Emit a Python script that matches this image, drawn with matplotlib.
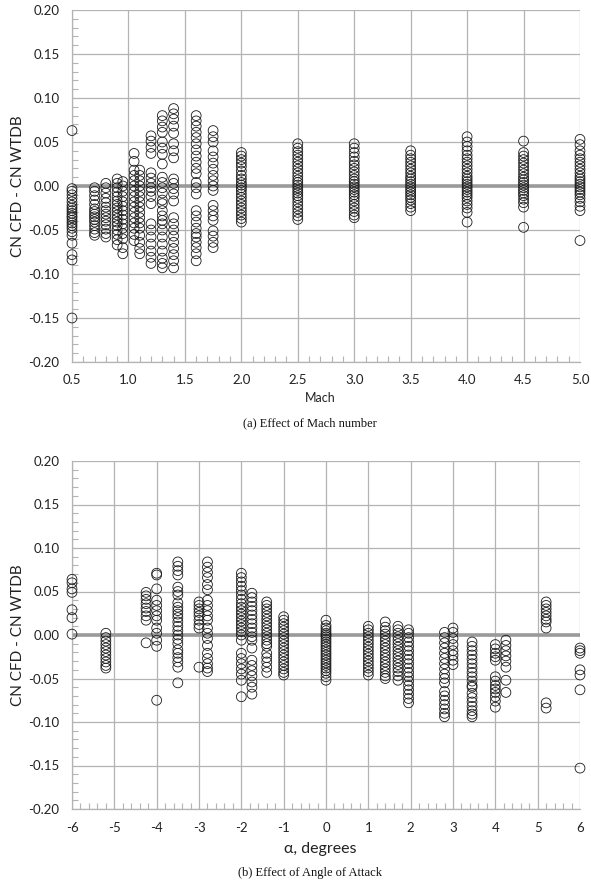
import matplotlib
matplotlib.use("Agg")
import matplotlib.pyplot as plt
from matplotlib.ticker import MultipleLocator

# (a) CN difference vs Mach number, one list per Mach column
mach_positions = [0.5, 0.7, 0.8, 0.9, 0.95, 1.05, 1.1, 1.2, 1.3, 1.4, 1.6, 1.75,
                  2.0, 2.5, 3.0, 3.5, 4.0, 4.5, 5.0]
mach_deltas = [
    [0.063, -0.003, -0.006, -0.010, -0.014, -0.018, -0.022, -0.025, -0.028, -0.031, -0.034,
     -0.036, -0.039, -0.042, -0.045, -0.048, -0.052, -0.056, -0.065, -0.078, -0.084, -0.150],
    [-0.002, -0.006, -0.011, -0.016, -0.021, -0.026, -0.029, -0.032, -0.035, -0.038, -0.041,
     -0.045, -0.049, -0.053, -0.056],
    [0.003, -0.002, -0.008, -0.014, -0.019, -0.024, -0.028, -0.032, -0.036, -0.040, -0.044,
     -0.049, -0.054, -0.058],
    [0.008, 0.003, -0.002, -0.007, -0.012, -0.017, -0.021, -0.025, -0.029, -0.033, -0.037,
     -0.041, -0.045, -0.050, -0.055, -0.061, -0.067],
    [0.005, 0.000, -0.006, -0.012, -0.018, -0.023, -0.028, -0.033, -0.038, -0.043, -0.048,
     -0.054, -0.060, -0.070, -0.077],
    [0.037, 0.028, 0.018, 0.012, 0.006, 0.000, -0.006, -0.012, -0.018, -0.024, -0.030,
     -0.036, -0.042, -0.048, -0.055, -0.062],
    [0.018, 0.012, 0.006, 0.000, -0.006, -0.012, -0.018, -0.024, -0.030, -0.036, -0.042,
     -0.048, -0.056, -0.064, -0.071, -0.077],
    [0.057, 0.051, 0.044, 0.037, 0.015, 0.009, 0.003, -0.002, -0.006, -0.012, -0.020,
     -0.043, -0.050, -0.058, -0.066, -0.074, -0.081, -0.088],
    [0.080, 0.074, 0.067, 0.061, 0.050, 0.043, 0.036, 0.025, 0.010, 0.004, -0.002, -0.008,
     -0.016, -0.020, -0.028, -0.034, -0.039, -0.043, -0.050, -0.058, -0.066, -0.074,
     -0.082, -0.088, -0.093],
    [0.088, 0.082, 0.076, 0.068, 0.060, 0.048, 0.040, 0.032, 0.008, 0.003, -0.003, -0.009,
     -0.017, -0.036, -0.043, -0.050, -0.057, -0.064, -0.071, -0.078, -0.085, -0.093],
    [0.080, 0.074, 0.068, 0.061, 0.055, 0.048, 0.041, 0.034, 0.027, 0.020, 0.014, 0.004,
     -0.002, -0.009, -0.028, -0.034, -0.041, -0.048, -0.054, -0.058, -0.064, -0.070,
     -0.077, -0.085],
    [0.063, 0.056, 0.050, 0.040, 0.033, 0.026, 0.019, 0.012, 0.006, 0.000, -0.005, -0.022,
     -0.028, -0.034, -0.039, -0.051, -0.057, -0.064, -0.070],
    [0.038, 0.034, 0.030, 0.026, 0.022, 0.017, 0.012, 0.008, 0.004, 0.001, -0.002, -0.005,
     -0.009, -0.013, -0.017, -0.021, -0.025, -0.029, -0.033, -0.037, -0.041],
    [0.048, 0.043, 0.039, 0.035, 0.031, 0.027, 0.023, 0.019, 0.015, 0.011, 0.007, 0.004,
     0.001, -0.002, -0.005, -0.008, -0.011, -0.014, -0.018, -0.022, -0.026, -0.030,
     -0.034, -0.038],
    [0.048, 0.043, 0.038, 0.033, 0.028, 0.024, 0.020, 0.016, 0.012, 0.008, 0.005, 0.002,
     -0.001, -0.004, -0.007, -0.010, -0.013, -0.017, -0.021, -0.025, -0.029, -0.033, -0.036],
    [0.040, 0.035, 0.031, 0.027, 0.023, 0.019, 0.015, 0.011, 0.008, 0.005, 0.002, -0.001,
     -0.004, -0.007, -0.010, -0.013, -0.016, -0.020, -0.024, -0.028],
    [0.056, 0.050, 0.045, 0.040, 0.035, 0.031, 0.027, 0.023, 0.019, 0.015, 0.011, 0.008,
     0.005, 0.002, -0.001, -0.004, -0.007, -0.010, -0.013, -0.017, -0.021, -0.025,
     -0.030, -0.041],
    [0.051, 0.038, 0.034, 0.030, 0.026, 0.022, 0.018, 0.014, 0.010, 0.007, 0.004, 0.001,
     -0.002, -0.005, -0.008, -0.011, -0.015, -0.019, -0.024, -0.047],
    [0.053, 0.047, 0.040, 0.035, 0.031, 0.027, 0.023, 0.019, 0.015, 0.011, 0.008, 0.005,
     0.002, -0.001, -0.004, -0.007, -0.010, -0.014, -0.018, -0.023, -0.028, -0.062],
]

# (b) CN difference vs angle of attack, one list per alpha column
alpha_positions = [-6.0, -5.2, -4.25, -4.0, -3.5, -3.0, -2.8, -2.0, -1.75, -1.4, -1.0,
                   0.0, 1.0, 1.4, 1.7, 1.95, 2.8, 3.0, 3.45, 4.0, 4.25, 5.2, 6.0]
alpha_deltas = [
    [0.064, 0.060, 0.053, 0.049, 0.029, 0.020, 0.001],
    [0.002, -0.003, -0.007, -0.011, -0.015, -0.019, -0.023, -0.027, -0.031, -0.035, -0.038],
    [0.049, 0.045, 0.041, 0.036, 0.031, 0.027, 0.022, 0.017, -0.009],
    [0.071, 0.069, 0.053, 0.040, 0.034, 0.028, 0.022, 0.017, 0.008, 0.002, -0.006, -0.013,
     -0.075],
    [0.084, 0.079, 0.074, 0.069, 0.055, 0.050, 0.046, 0.037, 0.032, 0.028, 0.024, 0.020,
     0.015, 0.010, 0.005, 0.000, -0.005, -0.010, -0.017, -0.021, -0.026, -0.031, -0.037,
     -0.055],
    [0.038, 0.034, 0.030, 0.026, 0.022, 0.017, 0.012, 0.008, -0.037],
    [0.084, 0.078, 0.072, 0.066, 0.058, 0.052, 0.040, 0.034, 0.028, 0.022, 0.017, 0.008,
     0.002, -0.004, -0.012, -0.021, -0.027, -0.033, -0.038, -0.042],
    [0.071, 0.066, 0.061, 0.056, 0.051, 0.046, 0.041, 0.036, 0.032, 0.028, 0.024, 0.020,
     0.016, 0.012, 0.008, 0.004, 0.000, -0.006, -0.021, -0.027, -0.033, -0.039, -0.045,
     -0.052, -0.071],
    [0.048, 0.043, 0.038, 0.033, 0.028, 0.023, 0.018, 0.013, 0.008, 0.003, -0.002, -0.006,
     -0.015, -0.029, -0.035, -0.041, -0.047, -0.054, -0.060, -0.068],
    [0.038, 0.034, 0.030, 0.026, 0.022, 0.018, 0.014, 0.010, 0.006, 0.002, -0.002, -0.006,
     -0.010, -0.013, -0.021, -0.026, -0.031, -0.037, -0.043],
    [0.021, 0.017, 0.013, 0.009, 0.005, 0.001, -0.003, -0.007, -0.011, -0.015, -0.019,
     -0.023, -0.027, -0.031, -0.035, -0.039, -0.043, -0.046],
    [0.017, 0.011, 0.008, 0.005, 0.002, 0.000, -0.002, -0.005, -0.008, -0.011, -0.014,
     -0.017, -0.020, -0.023, -0.026, -0.029, -0.032, -0.035, -0.038, -0.041, -0.044,
     -0.048, -0.052],
    [0.010, 0.006, 0.002, -0.002, -0.006, -0.010, -0.014, -0.018, -0.022, -0.026, -0.030,
     -0.034, -0.038, -0.042, -0.046],
    [0.015, 0.009, 0.005, 0.001, -0.003, -0.007, -0.011, -0.015, -0.019, -0.023, -0.027,
     -0.031, -0.035, -0.039, -0.043, -0.047, -0.050],
    [0.010, 0.006, 0.002, -0.002, -0.006, -0.010, -0.014, -0.018, -0.022, -0.026, -0.030,
     -0.034, -0.038, -0.042, -0.047, -0.052],
    [0.006, 0.002, -0.003, -0.008, -0.013, -0.018, -0.023, -0.028, -0.033, -0.038, -0.043,
     -0.048, -0.053, -0.058, -0.063, -0.068, -0.073, -0.078],
    [0.003, -0.003, -0.009, -0.015, -0.021, -0.027, -0.033, -0.039, -0.045, -0.050, -0.055,
     -0.065, -0.070, -0.075, -0.080, -0.085, -0.090, -0.094],
    [0.008, 0.003, -0.004, -0.011, -0.018, -0.023, -0.029, -0.034],
    [-0.008, -0.013, -0.018, -0.023, -0.028, -0.033, -0.038, -0.043, -0.048, -0.053, -0.058,
     -0.060, -0.067, -0.072, -0.077, -0.082, -0.087, -0.091, -0.094],
    [-0.011, -0.016, -0.021, -0.025, -0.029, -0.048, -0.053, -0.058, -0.062, -0.066, -0.071,
     -0.076, -0.083],
    [-0.006, -0.012, -0.018, -0.024, -0.030, -0.037, -0.052, -0.066],
    [0.038, 0.034, 0.030, 0.026, 0.022, 0.018, 0.015, 0.008, -0.078, -0.084],
    [-0.015, -0.018, -0.021, -0.040, -0.046, -0.063, -0.153],
]

mach_ticks = [0.5, 1.0, 1.5, 2.0, 2.5, 3.0, 3.5, 4.0, 4.5, 5.0]
alpha_ticks = [-6, -5, -4, -3, -2, -1, 0, 1, 2, 3, 4, 5, 6]
y_ticks = [-0.20, -0.15, -0.10, -0.05, 0.00, 0.05, 0.10, 0.15, 0.20]

W, H = 591, 885
grid_col = "#b3b3b3"
tick_font = "Lato"
cap_font = "Liberation Serif"

fig = plt.figure(figsize=(W / 100, H / 100), dpi=100)
fig.patch.set_facecolor("white")


def px_axes(left, top, right, bottom):
    return fig.add_axes([left / W, 1 - bottom / H, (right - left) / W, (bottom - top) / H])


def style_panel(ax, positions, deltas, xlim, xticks, xfmt, xminor):
    xs, ys = [], []
    for x, vals in zip(positions, deltas):
        xs.extend([x] * len(vals))
        ys.extend(vals)
    ax.axhline(0, color="#9a9a9a", lw=2.6, zorder=1)
    ax.scatter(xs, ys, s=50, facecolors="none", edgecolors="#1a1a1a", linewidths=0.6,
               zorder=3, clip_on=False)
    ax.set_xlim(*xlim)
    ax.set_ylim(-0.20, 0.20)
    ax.set_xticks(xticks)
    ax.set_xticklabels([xfmt(t) for t in xticks], fontfamily=tick_font, fontsize=9.5)
    ax.set_yticks(y_ticks)
    ax.set_yticklabels([f"{t:.2f}" for t in y_ticks], fontfamily=tick_font, fontsize=9.5)
    ax.xaxis.set_minor_locator(MultipleLocator(xminor))
    ax.yaxis.set_minor_locator(MultipleLocator(0.01))
    ax.tick_params(which="major", length=0, pad=9)
    ax.tick_params(which="minor", length=4, direction="in", color=grid_col, width=0.8)
    ax.grid(True, which="major", color=grid_col, lw=0.9, zorder=0)
    ax.set_axisbelow(True)
    for side in ["top", "right"]:
        ax.spines[side].set_visible(False)
    for side in ["left", "bottom"]:
        ax.spines[side].set_color(grid_col)
        ax.spines[side].set_linewidth(0.9)
    for lab in ax.get_xticklabels() + ax.get_yticklabels():
        lab.set_color("#222222")


ax1 = px_axes(72, 10, 580, 362)
style_panel(ax1, mach_positions, mach_deltas, (0.5, 5.0), mach_ticks,
            lambda t: f"{t:.1f}", 0.1)
ax2 = px_axes(72, 461, 580, 809)
style_panel(ax2, alpha_positions, alpha_deltas, (-6, 6), alpha_ticks,
            lambda t: f"{t:d}", 0.2)

fig.text(18 / W, 1 - 186 / H, "CN CFD - CN WTDB", rotation=90, ha="center", va="center",
         fontfamily=tick_font, fontsize=11, color="#222222")
fig.text(18 / W, 1 - 635 / H, "CN CFD - CN WTDB", rotation=90, ha="center", va="center",
         fontfamily=tick_font, fontsize=11, color="#222222")
fig.text(320 / W, 1 - 398 / H, "Mach", ha="center", va="center",
         fontfamily=tick_font, fontsize=9, color="#222222")
fig.text(320 / W, 1 - 849 / H, "α, degrees", ha="center", va="center",
         fontfamily=tick_font, fontsize=11.5, color="#222222")
fig.text(310 / W, 1 - 423 / H, "(a) Effect of Mach number", ha="center", va="center",
         fontfamily=cap_font, fontsize=9, color="#111111")
fig.text(310 / W, 1 - 873 / H, "(b) Effect of Angle of Attack", ha="center", va="center",
         fontfamily=cap_font, fontsize=9, color="#111111")

fig.savefig("out.png", dpi=100, facecolor="white")
